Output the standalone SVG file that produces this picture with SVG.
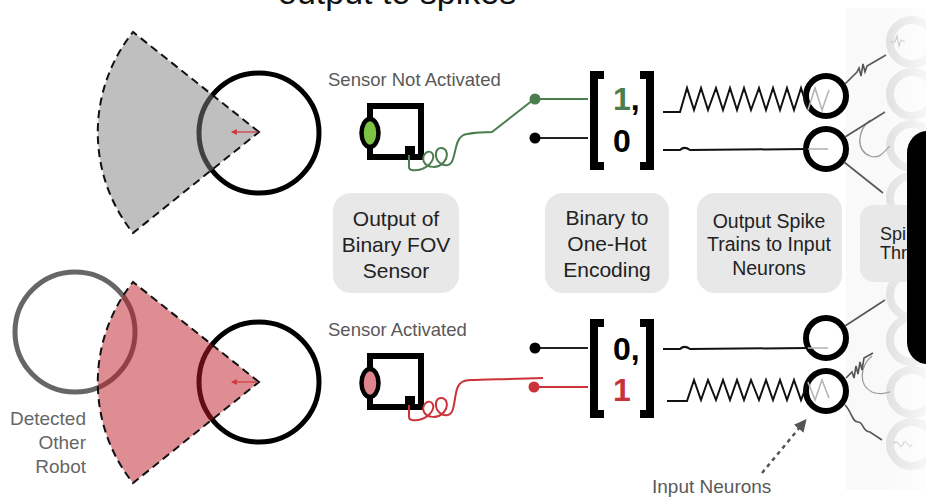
<svg xmlns="http://www.w3.org/2000/svg" width="926" height="499" viewBox="0 0 926 499">
  <defs>
    <style>
      .lbl { font-family: "Liberation Sans", Arial, sans-serif; }
      .gray { fill: #595959; }
      .boxtxt { fill: #222; text-anchor: middle; }
      .box { fill: #e8e8e8; }
      .robot { fill: none; stroke: #000; stroke-width: 5; }
      .fov { stroke: #111; stroke-width: 2; stroke-dasharray: 8 5; }
      .sensor { fill: #fff; stroke: #000; stroke-width: 6; }
      .brk { fill: none; stroke: #000; stroke-width: 8; stroke-linejoin: miter; }
      .num { font-family: "Liberation Sans", Arial, sans-serif; font-weight: bold; font-size: 32px; }
      .spike { fill: none; stroke: #111; stroke-width: 2; stroke-linejoin: miter; }
      .faint { fill: none; stroke: #b5b5b5; stroke-width: 1.6; }
      .neuron { fill: none; stroke: #000; stroke-width: 6; }
      .hidden { fill: none; stroke: #dedede; stroke-width: 8; }
      .syn { fill: none; stroke: #555; stroke-width: 1.6; }
    </style>
    <marker id="redhead" viewBox="0 0 10 10" refX="8" refY="5" markerWidth="5" markerHeight="5" orient="auto">
      <path d="M0,0 L10,5 L0,10 Z" fill="#d0383e"/>
    </marker>
    <marker id="grayhead" viewBox="0 0 10 10" refX="8" refY="5" markerWidth="5" markerHeight="5" orient="auto">
      <path d="M0,0 L10,5 L0,10 Z" fill="#555"/>
    </marker>
    <linearGradient id="fade" x1="0" y1="0" x2="1" y2="0">
      <stop offset="0" stop-color="#fff" stop-opacity="0"/>
      <stop offset="1" stop-color="#fff" stop-opacity="0.75"/>
    </linearGradient>
  </defs>

  <rect x="0" y="0" width="926" height="499" fill="#fff"/>

  <!-- heading, partly above the top edge -->
  <text class="lbl" x="278" y="4" font-size="34" fill="#111">output to spikes</text>

  <!-- hidden-layer backdrop -->
  <g id="hidden-layer">
    <rect x="846" y="8" width="80" height="482" fill="#f9f9f9"/>
    <circle class="hidden" cx="912" cy="42" r="22"/>
    <circle class="hidden" cx="912" cy="94" r="22"/>
    <circle class="hidden" cx="912" cy="146" r="22"/>
    <circle class="hidden" cx="912" cy="198" r="22"/>
    <circle class="hidden" cx="912" cy="250" r="22"/>
    <circle class="hidden" cx="912" cy="295" r="22"/>
    <circle class="hidden" cx="912" cy="340" r="22"/>
    <circle class="hidden" cx="912" cy="392" r="22"/>
    <circle class="hidden" cx="912" cy="444" r="22"/>
    <path d="M890,42 L895,42 L897,36 L899,46 L901,40 L905,42" fill="none" stroke="#bbb" stroke-width="1.2"/>
    <path d="M894,444 C897,436 900,452 903,444 C906,436 909,452 912,444" fill="none" stroke="#bbb" stroke-width="1.2"/>
    <path d="M870,120 C858,130 855,150 870,156 C880,160 885,150 890,146" fill="none" stroke="#999" stroke-width="1.3"/>
    <path d="M872,356 C860,366 858,385 872,392 C882,396 887,392 890,392" fill="none" stroke="#999" stroke-width="1.3"/>
  </g>

  <!-- top: robot with empty field of view -->
  <g id="robot-top">
    <circle class="robot" cx="259" cy="133" r="60"/>
    <path class="fov" d="M259,132 L133,32 A161,161 0 0 0 133,233 Z" fill="#808080" fill-opacity="0.5"/>
    <line x1="258" y1="132" x2="232" y2="132" stroke="#d0383e" stroke-width="1.2" marker-end="url(#redhead)"/>
  </g>

  <!-- bottom: robot seeing another robot -->
  <g id="robot-bottom">
    <circle cx="75" cy="332" r="60" fill="none" stroke="#666" stroke-width="5"/>
    <circle class="robot" cx="259" cy="382" r="60"/>
    <path class="fov" d="M259,382 L133,282 A161,161 0 0 0 133,483 Z" fill="#be1e28" fill-opacity="0.5"/>
    <line x1="258" y1="382" x2="232" y2="382" stroke="#d0383e" stroke-width="1.2" marker-end="url(#redhead)"/>
    <text class="lbl" x="86" y="425" font-size="19" fill="#666" text-anchor="end">Detected</text>
    <text class="lbl" x="86" y="449" font-size="19" fill="#666" text-anchor="end">Other</text>
    <text class="lbl" x="86" y="473" font-size="19" fill="#666" text-anchor="end">Robot</text>
  </g>

  <!-- sensors -->
  <g id="sensor-top">
    <text class="lbl gray" x="328" y="86" font-size="18.5">Sensor Not Activated</text>
    <rect class="sensor" x="370" y="106" width="51" height="51"/>
    <ellipse cx="370" cy="133" rx="8.5" ry="14" fill="#7dc242" stroke="#000" stroke-width="4.5"/>
    <rect x="405" y="146" width="10" height="9" fill="#000"/>
  </g>
  <g id="sensor-bottom">
    <text class="lbl gray" x="328" y="336" font-size="18.5">Sensor Activated</text>
    <rect class="sensor" x="370" y="356" width="51" height="51"/>
    <ellipse cx="370" cy="383" rx="8.5" ry="14" fill="#e0848c" stroke="#000" stroke-width="4.5"/>
    <rect x="405" y="396" width="10" height="9" fill="#000"/>
  </g>

  <!-- caption boxes -->
  <g id="box-sensor">
    <rect class="box" x="333" y="193" width="126" height="100" rx="18"/>
    <text class="lbl boxtxt" font-size="21"><tspan x="396" y="226">Output of</tspan><tspan x="396" y="252">Binary FOV</tspan><tspan x="396" y="278">Sensor</tspan></text>
  </g>
  <g id="box-encoding">
    <rect class="box" x="545" y="193" width="124" height="100" rx="18"/>
    <text class="lbl boxtxt" font-size="21"><tspan x="607" y="225">Binary to</tspan><tspan x="607" y="251">One-Hot</tspan><tspan x="607" y="277">Encoding</tspan></text>
  </g>
  <g id="box-spikes">
    <rect class="box" x="697" y="193" width="145" height="100" rx="18"/>
    <text class="lbl boxtxt" font-size="19.5"><tspan x="769" y="228">Output Spike</tspan><tspan x="769" y="251">Trains to Input</tspan><tspan x="769" y="275">Neurons</tspan></text>
  </g>

  <!-- one-hot vectors -->
  <g id="vector-top">
    <path class="brk" d="M604,75 H594 V166 H604"/>
    <path class="brk" d="M640,75 H650 V166 H640"/>
    <text class="num" x="613" y="110"><tspan fill="#4b7d4f">1</tspan><tspan fill="#000">,</tspan></text>
    <text class="num" x="613" y="152" fill="#000">0</text>
  </g>
  <g id="vector-bottom">
    <path class="brk" d="M604,323 H594 V414 H604"/>
    <path class="brk" d="M640,323 H650 V414 H640"/>
    <text class="num" x="613" y="360" fill="#000">0,</text>
    <text class="num" x="613" y="401" fill="#c8323c">1</text>
  </g>

  <!-- input neurons -->
  <g id="neuron-1"><circle class="neuron" cx="826" cy="96" r="20"/></g>
  <g id="neuron-2"><circle class="neuron" cx="826" cy="149" r="20"/></g>
  <g id="neuron-3"><circle class="neuron" cx="826" cy="338" r="20"/></g>
  <g id="neuron-4"><circle class="neuron" cx="826" cy="391" r="20"/></g>

  <g id="connectors">
    <!-- sensor wires -->
    <path d="M409,155 V167 C409,171 416,171 422,169 C430,166 436,158 432,153 C428,149 421,155 424,162 C427,168 438,169 444,162 C449,156 447,148 441,148 C435,148 434,158 440,163 C445,167 451,166 453,159 C456,150 456,140 462,136 C466,133 474,133 492,132 L533,100" fill="none" stroke="#4b7d4f" stroke-width="2"/>
    <path d="M409,405 V417 C409,421 416,421 422,419 C430,416 436,408 432,403 C428,399 421,405 424,412 C427,418 438,419 444,412 C449,406 447,398 441,398 C435,398 434,408 440,413 C445,417 451,416 453,409 C456,398 455,386 462,382 C466,379 480,380 543,378" fill="none" stroke="#cc3338" stroke-width="2"/>

    <!-- terminals to vector entries -->
    <line x1="535" y1="99" x2="588" y2="99" stroke="#4b7d4f" stroke-width="2"/>
    <circle cx="535" cy="99" r="5.5" fill="#4b7d4f"/>
    <line x1="535" y1="138" x2="588" y2="138" stroke="#222" stroke-width="2"/>
    <circle cx="535" cy="138" r="5.5" fill="#000"/>
    <line x1="535" y1="348" x2="588" y2="348" stroke="#222" stroke-width="2"/>
    <circle cx="535" cy="348" r="5.5" fill="#000"/>
    <line x1="534" y1="387" x2="588" y2="387" stroke="#cc3338" stroke-width="2"/>
    <circle cx="534" cy="387" r="5.5" fill="#cc3338"/>

    <!-- spike trains -->
    <polyline class="spike" points="663,112 680,112 687,88 694,110 701,88 708,110 716,88 723,110 730,88 737,110 744,88 751,110 759,88 766,110 773,88 780,110 787,88 794,110 801,88 808,110"/>
    <polyline class="faint" points="808,110 815,88 822,110 829,90"/>
    <path class="spike" d="M663,150 L680,150 C683,147 686,147 690,150 L808,149"/>
    <line class="faint" x1="808" y1="149" x2="828" y2="149"/>
    <path class="spike" d="M663,349 L680,349 C683,346 686,346 690,349 L808,348"/>
    <line class="faint" x1="808" y1="348" x2="828" y2="348"/>
    <polyline class="spike" points="667,401 687,401 694,380 701,400 708,380 716,400 723,380 730,400 737,380 744,400 751,380 759,400 766,380 773,400 780,380 787,400 794,380 801,400 808,382"/>
    <polyline class="faint" points="808,382 815,400 822,380 829,398"/>

    <!-- synapses toward the hidden layer -->
    <path class="syn" d="M845,84 L857,72 L859,68 L861,76 L863,64 L865,72 L867,66 L886,55"/>
    <path class="syn" d="M845,137 L885,112"/>
    <path class="syn" d="M844,162 L883,193"/>
    <path class="syn" d="M845,326 L885,300"/>
    <path class="syn" d="M846,378 L852,372 L854,378 L856,366 L858,374 L860,362 L862,370 L864,358 L873,353"/>
    <path class="syn" d="M845,405 C852,412 852,422 858,422 C864,422 862,432 870,432 L882,440"/>

    <!-- pointer to the input neurons -->
    <line x1="762" y1="473" x2="805" y2="421" stroke="#555" stroke-width="2.5" stroke-dasharray="4 4" marker-end="url(#grayhead)"/>
  </g>
  <text class="lbl gray" x="652" y="493" font-size="19">Input Neurons</text>

  <!-- fade over the hidden layer -->
  <rect x="880" y="0" width="46" height="499" fill="url(#fade)"/>

  <g id="box-threshold">
    <rect class="box" x="860" y="205" width="80" height="77" rx="14"/>
    <text class="lbl" x="880" y="240" font-size="18" fill="#222">Spi</text>
    <text class="lbl" x="880" y="259" font-size="18" fill="#222">Thr</text>
  </g>

  <g id="panel">
    <rect x="907" y="131" width="40" height="233" rx="22" fill="#000"/>
  </g>
</svg>
